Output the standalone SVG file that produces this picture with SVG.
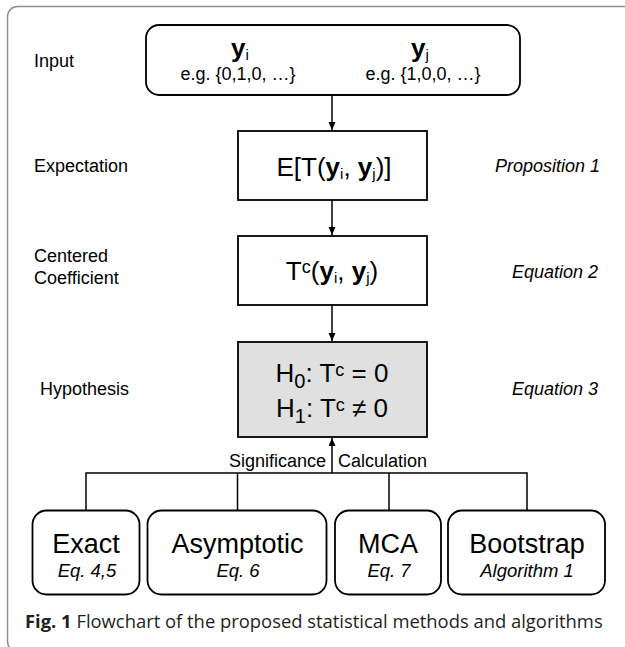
<svg xmlns="http://www.w3.org/2000/svg" width="625" height="647" viewBox="0 0 625 647">
  <defs>
    <marker id="arr" markerUnits="userSpaceOnUse" markerWidth="8" markerHeight="10" refX="8" refY="3.5" orient="auto">
      <path d="M0,0 L8,3.5 L0,7 z" fill="#000"/>
    </marker>
    <style>
      .lbl { font-family: "Liberation Sans", Arial, sans-serif; font-size: 18px; fill: #000; }
      .it { font-style: italic; }
      .sub { font-family: "Liberation Sans", Arial, sans-serif; font-size: 18.5px; font-style: italic; fill: #000; }
      .math { font-family: "Liberation Sans", Arial, sans-serif; font-size: 26px; fill: #000; }
      .meth { font-family: "Liberation Sans", Arial, sans-serif; font-size: 27px; fill: #000; }
      .box { fill: #fff; stroke: #000; stroke-width: 1.8; }
      .gray { fill: #e0e0e0; }
      .conn { fill: none; stroke: #000; stroke-width: 1.5; }
      .cap { font-family: "Open Sans", "Noto Sans", sans-serif; font-size: 18.4px; fill: #231f20; }
    </style>
  </defs>

  <rect x="7.5" y="6.5" width="700" height="645" rx="10" fill="none" stroke="#8e8e8e" stroke-width="1.5"/>

  <!-- side labels -->
  <text class="lbl" x="34" y="67">Input</text>
  <text class="lbl" x="34" y="172">Expectation</text>
  <text class="lbl" x="34" y="262">Centered</text>
  <text class="lbl" x="34" y="284">Coefficient</text>
  <text class="lbl" x="40" y="395">Hypothesis</text>
  <text class="lbl it" x="600" y="172" text-anchor="end">Proposition 1</text>
  <text class="lbl it" x="598" y="278" text-anchor="end">Equation 2</text>
  <text class="lbl it" x="598" y="395" text-anchor="end">Equation 3</text>

  <g id="connectors">
    <line class="conn" x1="332" y1="95" x2="332" y2="130" marker-end="url(#arr)"/>
    <line class="conn" x1="332" y1="200" x2="332" y2="235" marker-end="url(#arr)"/>
    <line class="conn" x1="332" y1="305" x2="332" y2="341" marker-end="url(#arr)"/>
    <line class="conn" x1="332" y1="473" x2="332" y2="438" marker-end="url(#arr)"/>
    <polyline class="conn" points="86,510 86,473 527,473 527,510"/>
    <line class="conn" x1="237.5" y1="473" x2="237.5" y2="510"/>
    <line class="conn" x1="389" y1="473" x2="389" y2="510"/>
    <text class="lbl"><tspan x="326" y="467" text-anchor="end">Significance</tspan><tspan x="338" y="467">Calculation</tspan></text>
  </g>

  <g id="input">
    <rect class="box" x="146" y="25" width="374" height="70" rx="13"/>
    <text class="math" x="240" y="57" text-anchor="middle" font-size="25"><tspan font-weight="bold">y</tspan><tspan font-size="15" dy="3">i</tspan></text>
    <text class="math" x="420" y="57" text-anchor="middle" font-size="25"><tspan font-weight="bold">y</tspan><tspan font-size="15" dy="3">j</tspan></text>
    <text class="lbl" x="238" y="80" text-anchor="middle">e.g. {0,1,0, …}</text>
    <text class="lbl" x="423" y="80" text-anchor="middle">e.g. {1,0,0, …}</text>
  </g>

  <g id="expectation">
    <rect class="box" x="238" y="131" width="189" height="69"/>
    <text class="math" x="334" y="176" text-anchor="middle">E[T(<tspan font-weight="bold">y</tspan><tspan font-size="15" dy="3">i</tspan><tspan dy="-3">, </tspan><tspan font-weight="bold">y</tspan><tspan font-size="15" dy="3">j</tspan><tspan dy="-3">)]</tspan></text>
  </g>

  <g id="centered">
    <rect class="box" x="238" y="236" width="189" height="69"/>
    <text class="math" x="332" y="280" text-anchor="middle">T<tspan font-size="18" dy="-7">c</tspan><tspan dy="7">(</tspan><tspan font-weight="bold">y</tspan><tspan font-size="15" dy="3">i</tspan><tspan dy="-3">, </tspan><tspan font-weight="bold">y</tspan><tspan font-size="15" dy="3">j</tspan><tspan dy="-3">)</tspan></text>
  </g>

  <g id="hypothesis">
    <rect class="box gray" x="238" y="342" width="189" height="95"/>
    <text class="math" x="332" y="382" text-anchor="middle">H<tspan font-size="20" dy="6">0</tspan><tspan dy="-6">: T</tspan><tspan font-size="18" dy="-6">c</tspan><tspan dy="6"> = 0</tspan></text>
    <text class="math" x="332" y="417" text-anchor="middle">H<tspan font-size="20" dy="6">1</tspan><tspan dy="-6">: T</tspan><tspan font-size="18" dy="-6">c</tspan><tspan dy="6"> ≠ 0</tspan></text>
  </g>

  <g id="exact">
    <rect class="box" x="32.5" y="510.5" width="107" height="84" rx="14"/>
    <text class="meth" x="86" y="553" text-anchor="middle">Exact</text>
    <text class="sub" x="87" y="577" text-anchor="middle">Eq. 4,5</text>
  </g>
  <g id="asymptotic">
    <rect class="box" x="147.5" y="510.5" width="179" height="84" rx="14"/>
    <text class="meth" x="237.5" y="553" text-anchor="middle">Asymptotic</text>
    <text class="sub" x="238" y="577" text-anchor="middle">Eq. 6</text>
  </g>
  <g id="mca">
    <rect class="box" x="335" y="510.5" width="106" height="84" rx="14"/>
    <text class="meth" x="388" y="553" text-anchor="middle">MCA</text>
    <text class="sub" x="389" y="577" text-anchor="middle">Eq. 7</text>
  </g>
  <g id="bootstrap">
    <rect class="box" x="448" y="510.5" width="157" height="84" rx="14"/>
    <text class="meth" x="527" y="553" text-anchor="middle">Bootstrap</text>
    <text class="sub" x="527" y="577" text-anchor="middle">Algorithm 1</text>
  </g>

  <text class="cap" x="25" y="628"><tspan font-weight="bold">Fig. 1</tspan> Flowchart of the proposed statistical methods and algorithms</text>
</svg>
